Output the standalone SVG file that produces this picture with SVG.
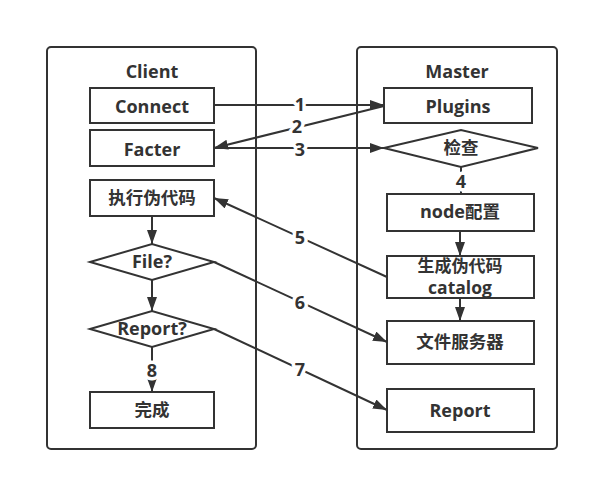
<svg xmlns="http://www.w3.org/2000/svg" width="591" height="482" viewBox="0 0 591 482">
<style>
.c{fill:#fff;stroke:#333;stroke-width:2}
.n{fill:#fff;stroke:#333;stroke-width:2}
text{font-family:"Open Sans","Noto Sans CJK SC",sans-serif;font-weight:bold;font-size:18px;fill:#333;text-anchor:middle}
.cjk{font-family:"Noto Sans CJK SC",sans-serif;font-size:17.5px}
.e{fill:none;stroke:#333;stroke-width:2}
.l{stroke:#fff;stroke-width:7;paint-order:stroke;stroke-linejoin:round}
</style>
<defs>
<marker id="a" viewBox="0 0 14 10" refX="14" refY="5" markerWidth="14" markerHeight="10" markerUnits="userSpaceOnUse" orient="auto">
<path d="M0,0 L14,5 L0,10 Z" fill="#333"/>
</marker>
</defs>
<g id="client">
<rect class="c" x="47" y="47" width="209" height="402" rx="4"/>
<text x="152" y="78">Client</text>
</g>
<g id="master">
<rect class="c" x="357" y="47" width="200" height="402" rx="4"/>
<text x="457" y="78">Master</text>
</g>
<g id="connect"><rect class="n" x="90" y="88" width="124" height="35"/><text x="152" y="113">Connect</text></g>
<g id="facter"><rect class="n" x="90" y="130" width="124" height="36"/><text x="152" y="156">Facter</text></g>
<g id="exec"><rect class="n" x="90" y="180" width="124" height="36"/><text class="cjk" x="152" y="204">执行伪代码</text></g>
<g id="file"><path class="n" d="M90,262 L152,244 L214,262 L152,280 Z"/><text x="152" y="268">File?</text></g>
<g id="reportq"><path class="n" d="M90,329 L152,311 L214,329 L152,347 Z"/><text x="152" y="335">Report?</text></g>
<g id="done"><rect class="n" x="90" y="392" width="124" height="36"/><text class="cjk" x="152" y="416">完成</text></g>
<g id="plugins"><rect class="n" x="384" y="88" width="148" height="35"/><text x="458" y="113">Plugins</text></g>
<g id="check"><path class="n" d="M384,148 L461,130 L538,148 L461,167 Z"/><text class="cjk" x="461" y="154">检查</text></g>
<g id="nodecfg"><rect class="n" x="387" y="194" width="147" height="37"/><text x="460" y="218">node<tspan class="cjk">配置</tspan></text></g>
<g id="gen"><rect class="n" x="387" y="256" width="147" height="42"/><text class="cjk" x="460" y="272" style="font-size:17px">生成伪代码</text><text x="460" y="294" style="font-size:17.5px">catalog</text></g>
<g id="fileserver"><rect class="n" x="387" y="321" width="147" height="43"/><text class="cjk" x="460" y="348">文件服务器</text></g>
<g id="report"><rect class="n" x="387" y="389" width="147" height="43"/><text x="460" y="417">Report</text></g>
<g id="connectors">
<line class="e" x1="214" y1="105" x2="384" y2="105" marker-end="url(#a)"/>
<line class="e" x1="384" y1="106" x2="214" y2="148" marker-end="url(#a)"/>
<line class="e" x1="214" y1="148" x2="384" y2="148" marker-end="url(#a)"/>
<line class="e" x1="461" y1="167" x2="461" y2="194" marker-end="url(#a)"/>
<line class="e" x1="460" y1="231" x2="460" y2="256" marker-end="url(#a)"/>
<line class="e" x1="460" y1="298" x2="460" y2="321" marker-end="url(#a)"/>
<line class="e" x1="387" y1="277" x2="214" y2="198" marker-end="url(#a)"/>
<line class="e" x1="214" y1="262" x2="387" y2="342" marker-end="url(#a)"/>
<line class="e" x1="214" y1="329" x2="387" y2="410" marker-end="url(#a)"/>
<line class="e" x1="152" y1="216" x2="152" y2="244" marker-end="url(#a)"/>
<line class="e" x1="152" y1="280" x2="152" y2="311" marker-end="url(#a)"/>
<line class="e" x1="152" y1="347" x2="152" y2="392" marker-end="url(#a)"/>
<text class="l" x="300" y="111">1</text>
<text class="l" x="297" y="133">2</text>
<text class="l" x="300" y="156">3</text>
<text class="l" x="461" y="188">4</text>
<text class="l" x="300" y="244">5</text>
<text class="l" x="300" y="309">6</text>
<text class="l" x="300" y="376">7</text>
<text class="l" x="152" y="377">8</text>
</g>
</svg>
